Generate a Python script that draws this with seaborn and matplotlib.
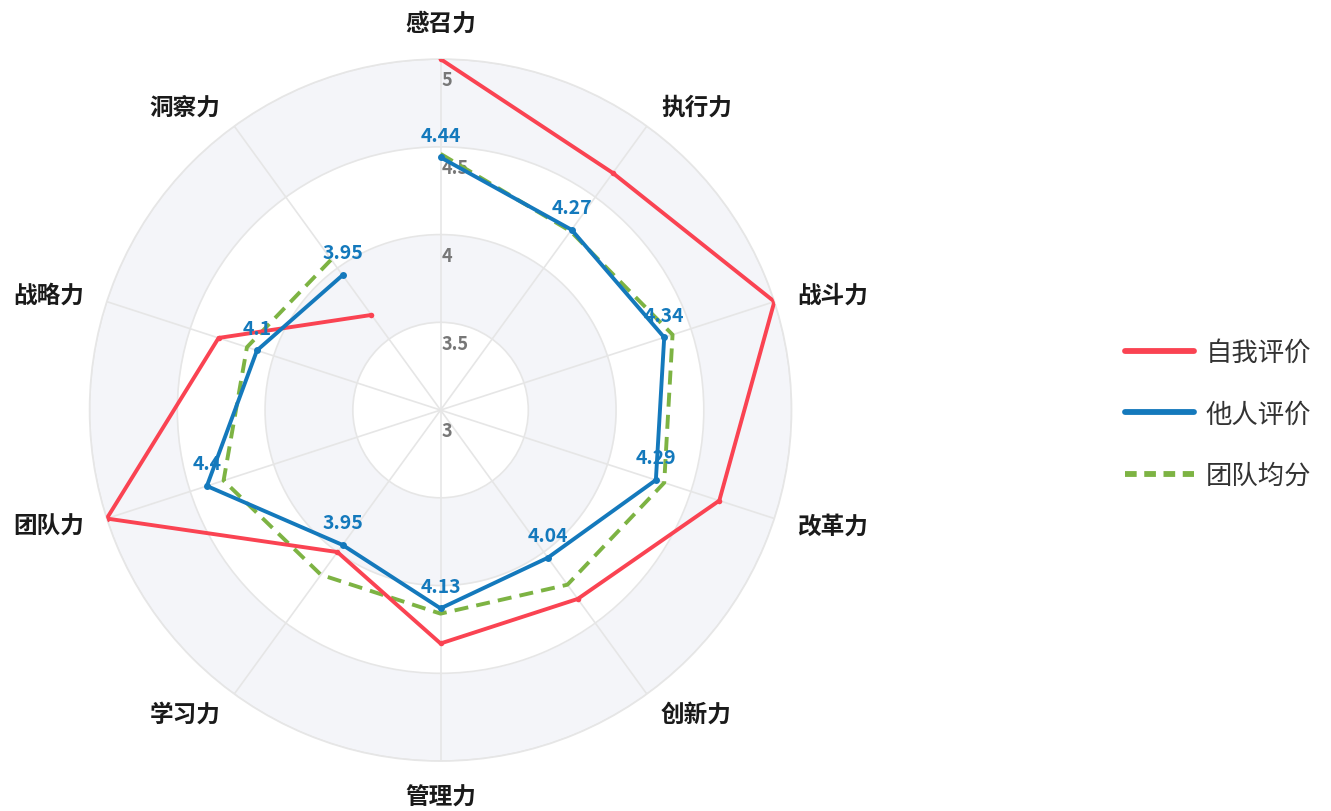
import numpy as np
import pandas as pd
import matplotlib
matplotlib.use("Agg")
import matplotlib.pyplot as plt
import seaborn as sns

categories = ["感召力", "执行力", "战斗力", "改革力", "创新力",
              "管理力", "学习力", "团队力", "战略力", "洞察力"]
self_scores = [5, 4.67, 5, 4.67, 4.33, 4.33, 4.0, 5, 4.33, 3.67]
other_scores = [4.44, 4.27, 4.34, 4.29, 4.04, 4.13, 3.95, 4.4, 4.1, 3.95]
team_scores = [4.46, 4.26, 4.39, 4.34, 4.23, 4.16, 4.16, 4.30, 4.16, 4.06]
series_names = ["自我评价", "他人评价", "团队均分"]
r_ticks = [3, 3.5, 4, 4.5, 5]

sns.set_theme(style="white")
plt.rcParams["font.family"] = ["Noto Sans CJK SC", "DejaVu Sans"]

RED = "#fa4352"
BLUE = "#1479bc"
GREEN = "#7db343"
GRID = "#e6e6e6"
BAND = "#f4f5f9"

n = len(categories)
angles = np.linspace(0, 2 * np.pi, n, endpoint=False)


def closed_frame(values):
    theta = np.append(angles, angles[0])
    vals = np.append(values, values[0])
    return pd.DataFrame({"theta": theta, "value": vals})


fig = plt.figure(figsize=(13.31, 8.12), dpi=100)
ax = fig.add_axes([0.0673, 0.0615, 0.5274, 0.8645], projection="polar")
ax.set_theta_zero_location("N")
ax.set_theta_direction(-1)
ax.set_ylim(3, 5)

# alternating bands
full = np.linspace(0, 2 * np.pi, 400)
for lo, hi in [(3.5, 4), (4.5, 5)]:
    ax.fill_between(full, lo, hi, color=BAND, zorder=0, linewidth=0)

ax.set_xticks(angles)
ax.set_xticklabels([])
ax.set_yticks(r_ticks)
ax.set_yticklabels([])
ax.grid(True, color=GRID, linewidth=1.2)
ax.spines["polar"].set_color(GRID)
ax.spines["polar"].set_linewidth(1.2)
ax.tick_params(length=0)

# radial tick labels
for t in r_ticks:
    ax.annotate(str(t), xy=(0, t), xytext=(1, -15), textcoords="offset points",
                ha="left", va="center", fontsize=13, fontweight="bold",
                color="#777777", zorder=2)

# series
sns.lineplot(data=closed_frame(self_scores), x="theta", y="value", sort=False,
             ax=ax, color=RED, linewidth=2.8, marker="o", markersize=4,
             markeredgewidth=0, label=series_names[0], zorder=4)
sns.lineplot(data=closed_frame(other_scores), x="theta", y="value", sort=False,
             ax=ax, color=BLUE, linewidth=2.8, marker="o", markersize=5,
             markeredgewidth=0, label=series_names[1], zorder=5)
sns.lineplot(data=closed_frame(team_scores), x="theta", y="value", sort=False,
             ax=ax, color=GREEN, linewidth=2.8, linestyle=(0, (3.6, 2.1)),
             label=series_names[2], zorder=3)
ax.set_xlabel("")
ax.set_ylabel("")

# value labels for 他人评价
for a, v in zip(angles, other_scores):
    ax.annotate(f"{v:g}", xy=(a, v), xytext=(0, 16), textcoords="offset points",
                ha="center", va="center", fontsize=14, fontweight="bold",
                color=BLUE, zorder=6)

# category labels
label_r = 3 + 375 / 175.5
for a, name in zip(angles, categories):
    s, c = np.sin(a), np.cos(a)
    ha = "center" if abs(s) < 0.1 else ("left" if s > 0 else "right")
    if c > 0.95:
        va = "bottom"
    elif c < -0.95:
        va = "top"
    else:
        va = "center"
    ax.text(a, label_r, name, ha=ha, va=va, fontsize=17, fontweight="bold",
            color="#1a1a1a", clip_on=False)

ax.get_legend().remove()
handles, labels = ax.get_legend_handles_labels()
leg = fig.legend(handles, labels, loc="center left",
                 bbox_to_anchor=(0.8452, 0.489), frameon=False,
                 fontsize=19, handlelength=2.6, handletextpad=0.45,
                 labelspacing=1.3, borderpad=0, borderaxespad=0)
for line in leg.get_lines():
    line.set_linewidth(4.2)
    line.set_marker("")
leg.get_lines()[2].set_dashes((2.0, 1.3))
for text in leg.get_texts():
    text.set_color("#333333")

fig.savefig("out.png", dpi=100)
